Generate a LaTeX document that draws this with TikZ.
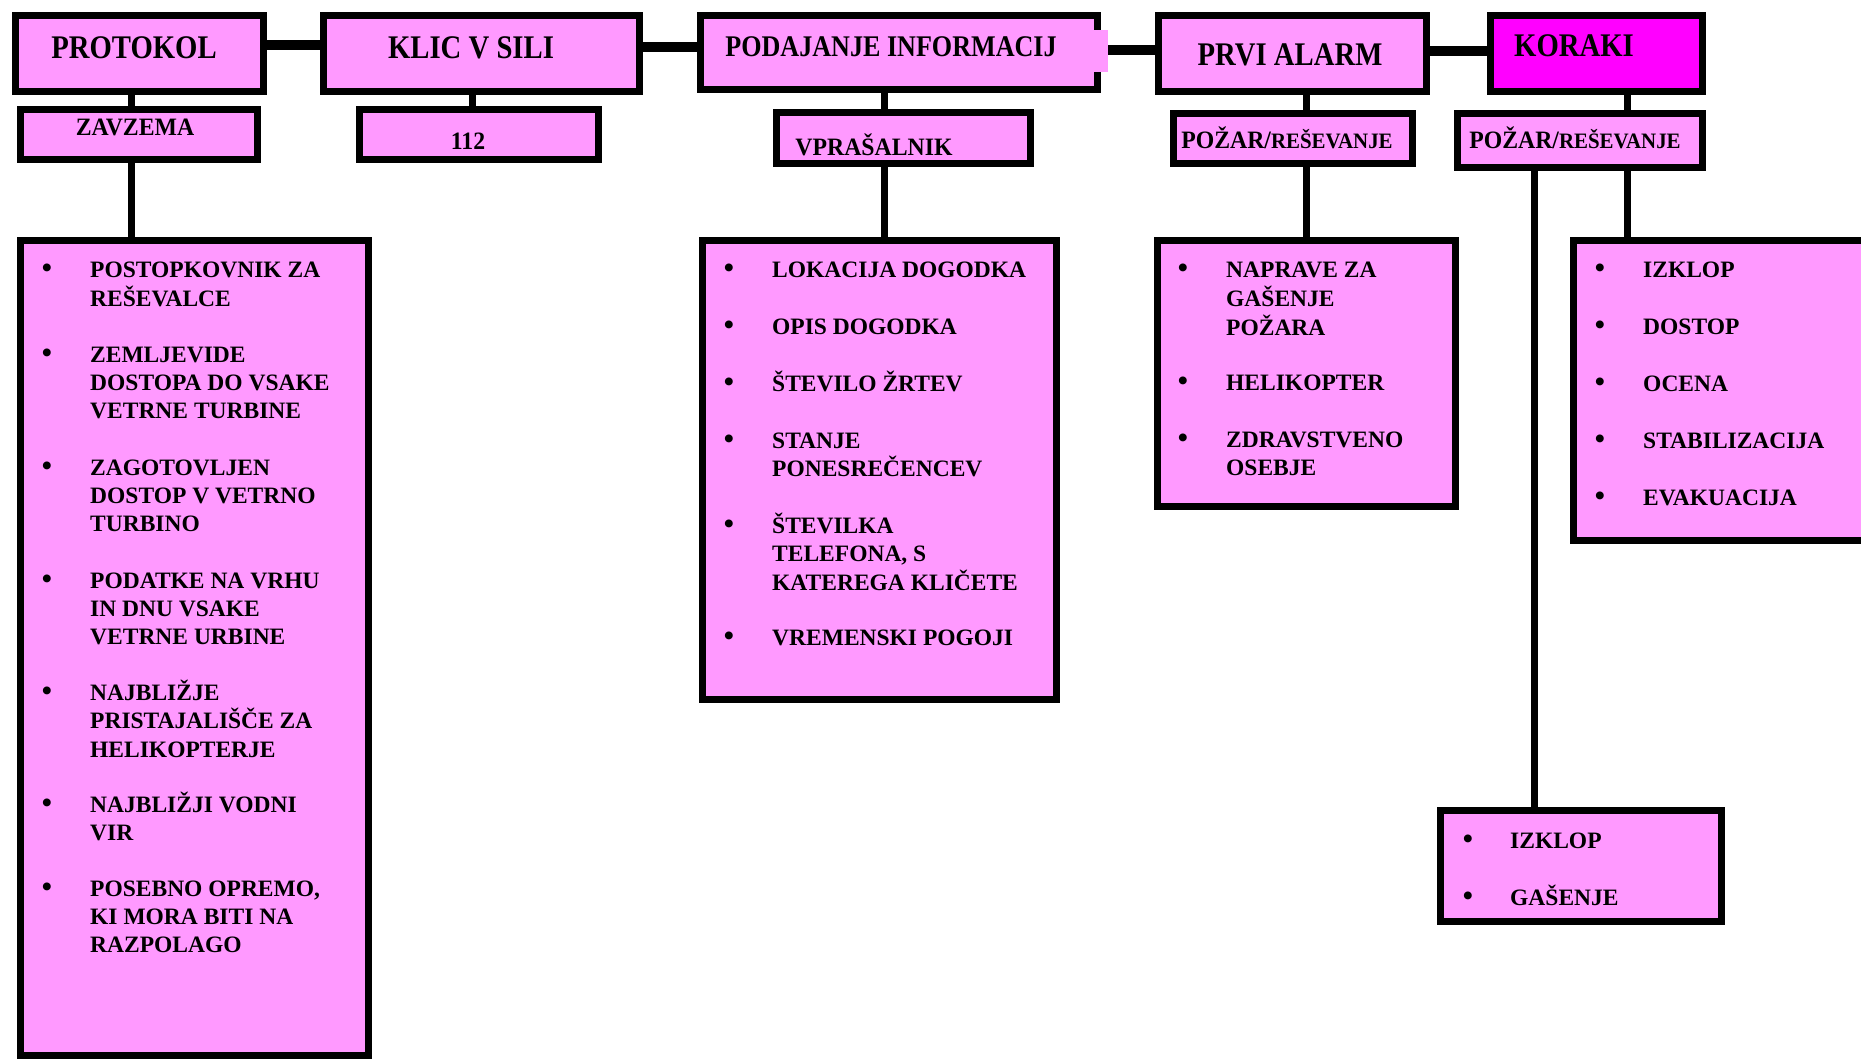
\documentclass[tikz,border=0pt]{standalone}
\usepackage{fontspec}
\setmainfont{Liberation Serif}
\usepackage{graphicx}
\usetikzlibrary{backgrounds}
\definecolor{pinkfill}{HTML}{FF99FF}
\definecolor{magfill}{HTML}{FF00FF}
\newcommand\topfont{\fontsize{33}{38}\selectfont\bfseries}
\newcommand\midfont{\fontsize{30}{34}\selectfont\bfseries}
\newcommand\subfont{\fontsize{25}{29}\selectfont\bfseries}
\newcommand\smallsub{\fontsize{22}{26}\selectfont\bfseries}
\newcommand\itemfont{\fontsize{23.5}{28.2}\selectfont\bfseries}
\newcommand\bulfont{\fontsize{29}{30}\selectfont\bfseries}
\newcommand\tsq[1]{\scalebox{0.87}[1]{#1}}
\newcommand\ssq[1]{\scalebox{0.95}[1]{#1}}
\newcommand\pozar{\ssq{POŽAR/{\smallsub REŠEVANJE}}}
% bullet item: name, bullet x, text x, baseline y, lines
\newcommand\bitem[5]{%
  \node[bul] (#1b) at (#2,#4) {•};
  \node[itm] (#1) at (#3,#4) {\begin{tabular}[t]{@{}l@{}}#5\end{tabular}};}
\newcommand\vlink[3]{%
  \coordinate (tmpv) at ([xshift=#2]#1.south);
  \draw[vconn] (tmpv) -- (tmpv |- #3.north);}
\newcommand\hlink[3]{%
  \coordinate (tmph) at ([yshift=#2]#1.east);
  \draw[hconn] (tmph) -- (tmph -| #3.west);}
\begin{document}
\begin{tikzpicture}[x=1pt,y=-1pt,
  box/.style={draw=black, line width=7.5pt, fill=pinkfill, inner sep=0pt},
  hconn/.style={line width=10pt, draw=black},
  vconn/.style={line width=7pt, draw=black},
  toplbl/.style={anchor=base, inner sep=0pt, font=\topfont},
  sublbl/.style={anchor=base, inner sep=0pt, font=\subfont},
  bul/.style={anchor=base, inner sep=0pt, font=\bulfont},
  itm/.style={anchor=base west, inner sep=0pt, font=\itemfont},
]
\useasboundingbox (0,0) rectangle (1861,1060);

% top row
\node[box, minimum width=248pt, minimum height=76pt] (protokol) at (139.5,53.5) {};
\node[box, minimum width=316pt, minimum height=76pt] (klic) at (481.5,53.5) {};
\node[box, minimum width=397pt, minimum height=74pt] (podajanje) at (899,52.5) {};
\fill[pinkfill] (1093,30) rectangle (1108,72);
\node[box, minimum width=268pt, minimum height=76pt] (prvi) at (1292.5,53.5) {};
\node[box, fill=magfill, minimum width=212pt, minimum height=76pt] (koraki) at (1596.5,53.5) {};

\node[toplbl] (tprotokol) at (134,58) {\tsq{PROTOKOL}};
\node[toplbl] (tklic) at (471,58) {\tsq{KLIC V SILI}};
\node[toplbl, font=\midfont] (tpodajanje) at (891,56) {\tsq{PODAJANJE INFORMACIJ}};
\node[toplbl] (tprvi) at (1290,65.5) {\tsq{PRVI ALARM}};
\node[toplbl] (tkoraki) at (1574,56) {\tsq{KORAKI}};

% second row
\node[box, minimum width=237pt, minimum height=50pt] (zavzema) at (139,134.5) {};
\node[box, minimum width=239pt, minimum height=50pt] (n112) at (479,134.5) {};
\node[box, minimum width=254pt, minimum height=51pt] (vpras) at (903.5,138) {};
\node[box, minimum width=239pt, minimum height=50pt] (pozar1) at (1293,138.5) {};
\node[box, minimum width=245pt, minimum height=54pt] (pozar2) at (1580,140.5) {};

\node[sublbl] (tzavzema) at (135,135) {\ssq{ZAVZEMA}};
\node[sublbl] (t112) at (468,149) {\ssq{112}};
\node[sublbl] (tvpras) at (874,155) {\ssq{VPRAŠALNIK}};
\node[sublbl] (tpozar1) at (1287,148) {\pozar};
\node[sublbl] (tpozar2) at (1575,148) {\pozar};

% list boxes
\node[box, minimum width=348pt, minimum height=815pt] (lst1) at (194.5,648) {};
\node[box, minimum width=354pt, minimum height=459pt] (lst2) at (879.5,470) {};
\node[box, minimum width=298pt, minimum height=266pt] (lst3) at (1306.5,373.5) {};
\begin{scope}
\clip (0,0) rectangle (1861,1060);
\node[box, minimum width=298pt, minimum height=300pt] (lst4) at (1722.5,390.5) {};
\end{scope}
\node[box, minimum width=281pt, minimum height=111pt] (lst5) at (1581,866) {};

% list 1
\bitem{a1}{47}{90}{277.5}{POSTOPKOVNIK ZA\\REŠEVALCE}
\bitem{a2}{47}{90}{362}{ZEMLJEVIDE\\DOSTOPA DO VSAKE\\VETRNE TURBINE}
\bitem{a3}{47}{90}{475}{ZAGOTOVLJEN\\DOSTOP V VETRNO\\TURBINO}
\bitem{a4}{47}{90}{588}{PODATKE NA VRHU\\IN DNU VSAKE\\VETRNE URBINE}
\bitem{a5}{47}{90}{700}{NAJBLIŽJE\\PRISTAJALIŠČE ZA\\HELIKOPTERJE}
\bitem{a6}{47}{90}{812}{NAJBLIŽJI VODNI\\VIR}
\bitem{a7}{47}{90}{896}{POSEBNO OPREMO,\\KI MORA BITI NA\\RAZPOLAGO}

% list 2
\bitem{b1}{729}{772}{277.5}{LOKACIJA DOGODKA}
\bitem{b2}{729}{772}{334}{OPIS DOGODKA}
\bitem{b3}{729}{772}{391}{ŠTEVILO ŽRTEV}
\bitem{b4}{729}{772}{448}{STANJE\\PONESREČENCEV}
\bitem{b5}{729}{772}{533}{ŠTEVILKA\\TELEFONA, S\\KATEREGA KLIČETE}
\bitem{b6}{729}{772}{645}{VREMENSKI POGOJI}

% list 3
\bitem{c1}{1183}{1226}{277.5}{NAPRAVE ZA\\GAŠENJE\\POŽARA}
\bitem{c2}{1183}{1226}{390}{HELIKOPTER}
\bitem{c3}{1183}{1226}{447}{ZDRAVSTVENO\\OSEBJE}

% list 4
\bitem{d1}{1600}{1643}{277.5}{IZKLOP}
\bitem{d2}{1600}{1643}{334}{DOSTOP}
\bitem{d3}{1600}{1643}{391}{OCENA}
\bitem{d4}{1600}{1643}{448}{STABILIZACIJA}
\bitem{d5}{1600}{1643}{505}{EVAKUACIJA}

% list 5
\bitem{e1}{1468}{1510}{848}{IZKLOP}
\bitem{e2}{1468}{1510}{905}{GAŠENJE}

\begin{pgfonlayer}{background}
\fill[white] (0,0) rectangle (1861,1060);
\hlink{protokol}{8.5pt}{klic}
\hlink{klic}{6.5pt}{podajanje}
\hlink{podajanje}{2.5pt}{prvi}
\hlink{prvi}{2.5pt}{koraki}
\vlink{protokol}{-8.5pt}{zavzema}
\vlink{zavzema}{-8pt}{lst1}
\vlink{klic}{-9.5pt}{n112}
\vlink{podajanje}{-15pt}{vpras}
\vlink{vpras}{-19.5pt}{lst2}
\vlink{prvi}{13.5pt}{pozar1}
\vlink{pozar1}{13pt}{lst3}
\vlink{koraki}{30.5pt}{pozar2}
\vlink{pozar2}{47pt}{lst4}
\vlink{pozar2}{-46pt}{lst5}
\end{pgfonlayer}
\end{tikzpicture}
\end{document}
